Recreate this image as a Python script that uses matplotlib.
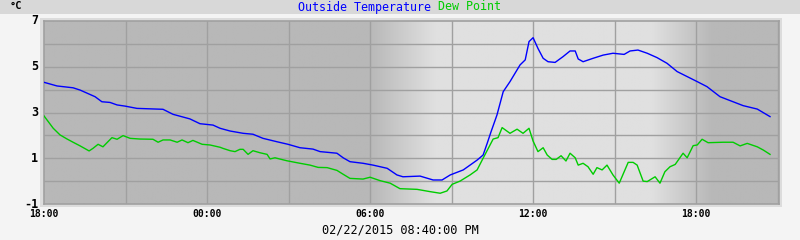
import numpy as np
import matplotlib
matplotlib.use("Agg")
import matplotlib.pyplot as plt
from matplotlib.patches import Rectangle

# hours since 18:00 on the first day
temp_hours = [0.00, 0.48, 1.07, 1.33, 1.88, 2.13, 2.43, 2.69, 2.98, 3.42, 4.38, 4.75, 5.37, 5.74,
              6.22, 6.48, 6.85, 7.33, 7.69, 8.06, 8.58, 8.98, 9.42, 9.90, 10.16, 10.78, 11.01,
              11.26, 11.74, 12.11, 12.63, 12.99, 13.21, 13.84, 14.32, 14.65, 14.95, 15.43, 15.94,
              16.16, 16.31, 16.45, 16.67, 16.90, 17.15, 17.52, 17.71, 17.85, 18.00, 18.18, 18.37,
              18.55, 18.81, 19.10, 19.36, 19.55, 19.66, 19.84, 20.21, 20.58, 20.94, 21.35, 21.57,
              21.86, 22.20, 22.56, 22.93, 23.30, 23.67, 24.04, 24.40, 24.88, 25.36, 25.73, 26.25,
              26.72]
temp_values = [4.32, 4.16, 4.08, 3.98, 3.69, 3.47, 3.44, 3.33, 3.28, 3.18, 3.14, 2.92, 2.72, 2.51,
               2.45, 2.31, 2.19, 2.09, 2.05, 1.87, 1.72, 1.61, 1.46, 1.40, 1.29, 1.22, 1.02,
               0.85, 0.78, 0.70, 0.56, 0.27, 0.19, 0.22, 0.05, 0.05, 0.27, 0.49, 0.92,
               1.14, 1.65, 2.15, 2.89, 3.91, 4.35, 5.08, 5.30, 6.10, 6.27, 5.80, 5.37,
               5.22, 5.19, 5.44, 5.69, 5.69, 5.34, 5.22, 5.37, 5.51, 5.59, 5.54, 5.69,
               5.73, 5.59, 5.40, 5.15, 4.79, 4.57, 4.35, 4.13, 3.69, 3.47, 3.30, 3.15,
               2.82]

dew_hours = [0.00, 0.34, 0.59, 0.85, 1.07, 1.33, 1.66, 1.80, 1.99, 2.17, 2.50, 2.69, 2.91, 3.17,
             3.53, 4.01, 4.20, 4.38, 4.64, 4.90, 5.08, 5.30, 5.48, 5.82, 6.11, 6.48, 6.59, 6.85,
             7.03, 7.21, 7.33, 7.51, 7.69, 7.95, 8.21, 8.32, 8.50, 8.94, 9.42, 9.79, 10.09, 10.42,
             10.78, 11.01, 11.26, 11.74, 12.00, 12.37, 12.74, 13.10, 13.73, 14.21, 14.58, 14.83,
             15.02, 15.31, 15.68, 15.94, 16.16, 16.53, 16.71, 16.86, 17.15, 17.41, 17.63, 17.85,
             18.00, 18.18, 18.37, 18.52, 18.70, 18.85, 19.03, 19.21, 19.36, 19.55, 19.66, 19.84,
             20.02, 20.21, 20.35, 20.54, 20.72, 20.94, 21.17, 21.50, 21.68, 21.83, 22.05, 22.20,
             22.49, 22.67, 22.85, 23.04, 23.23, 23.52, 23.67, 23.89, 24.04, 24.22, 24.44, 24.99,
             25.36, 25.62, 25.88, 26.25, 26.47, 26.72]
dew_values = [2.85, 2.31, 2.02, 1.84, 1.70, 1.54, 1.32, 1.43, 1.61, 1.50, 1.90, 1.83, 1.99, 1.87,
              1.84, 1.83, 1.70, 1.80, 1.80, 1.70, 1.80, 1.68, 1.78, 1.61, 1.58, 1.48, 1.43, 1.33,
              1.29, 1.39, 1.39, 1.17, 1.33, 1.24, 1.17, 0.97, 1.02, 0.89, 0.78, 0.70, 0.60, 0.59,
              0.47, 0.30, 0.12, 0.09, 0.17, 0.02, -0.09, -0.33, -0.36, -0.46, -0.53, -0.43,
              -0.14, 0.00, 0.27, 0.49, 1.00, 1.84, 1.90, 2.34, 2.09, 2.27, 2.09, 2.31,
              1.75, 1.29, 1.46, 1.14, 0.95, 0.95, 1.11, 0.88, 1.22, 1.02, 0.70, 0.78,
              0.63, 0.30, 0.59, 0.49, 0.70, 0.27, -0.09, 0.82, 0.82, 0.70, 0.00, -0.02,
              0.19, -0.09, 0.41, 0.63, 0.73, 1.22, 1.02, 1.55, 1.58, 1.83, 1.68, 1.70,
              1.70, 1.54, 1.65, 1.50, 1.36, 1.17]

y_ticks = [-1, 1, 3, 5, 7]
x_tick_hours = [0, 6, 12, 18, 24]
x_tick_labels = ["18:00", "00:00", "06:00", "12:00", "18:00"]
title_parts = ["Outside Temperature", "Dew Point"]
unit_label = "°C"
date_label = "02/22/2015 08:40:00 PM"

W, H = 800, 240
fig = plt.figure(figsize=(8, 2.4), dpi=100, facecolor="#f4f4f4")

# title strip
fig.add_artist(Rectangle((0, 1 - 14 / H), 1, 14 / H, transform=fig.transFigure,
                         facecolor="#d8d8d8", edgecolor="none", zorder=-5))
# outer frame band
fig.add_artist(Rectangle((40 / W, 1 - 207 / H), 742 / W, 189 / H, transform=fig.transFigure,
                         facecolor="#dcdcdc", edgecolor="none", zorder=-5))

ax = fig.add_axes([44 / W, 1 - 204 / H, 735 / W, 183 / H])
ax.set_zorder(2)
xmax = 27.05
ax.set_xlim(0, xmax)
ax.set_ylim(-1, 7)

# day/night background
xs = np.linspace(0, xmax, 1000)
dark, light = 184, 224
shade = np.full_like(xs, dark, dtype=float)
sr0, sr1, ss0, ss1 = 12.0, 14.4, 22.4, 24.6
m = (xs >= sr0) & (xs < sr1)
shade[m] = dark + (light - dark) * (xs[m] - sr0) / (sr1 - sr0)
m = (xs >= sr1) & (xs < ss0)
shade[m] = light
m = (xs >= ss0) & (xs < ss1)
shade[m] = light - (light - dark) * (xs[m] - ss0) / (ss1 - ss0)
img = np.repeat((shade / 255.0)[None, :, None], 3, axis=2)
ax.imshow(img, extent=(0, xmax, -1, 7), aspect="auto", zorder=0, interpolation="bilinear")

for h in np.arange(3, xmax, 3):
    ax.axvline(h, color="#a0a0a0", lw=1.0, zorder=1)
for v in range(0, 7):
    ax.axhline(v, color="#a0a0a0", lw=1.0, zorder=1)
for s in ax.spines.values():
    s.set_color("#a0a0a0")
    s.set_linewidth(1.2)

ax.plot(temp_hours, temp_values, color="#0000ff", lw=1.0, zorder=3)
ax.plot(dew_hours, dew_values, color="#00cc00", lw=1.0, zorder=3)

ax.set_xticks([])
ax.set_yticks([])

mono = "DejaVu Sans Mono"
for v in y_ticks:
    ypix = 21 + (7 - v) * 183 / 8
    fig.text(38 / W, 1 - ypix / H, str(v), ha="right", va="center", fontsize=8.5,
             fontweight="bold", family=mono)
for h, lab in zip(x_tick_hours, x_tick_labels):
    xpix = 44 + h * 735 / xmax
    fig.text(xpix / W, 1 - 214 / H, lab, ha="center", va="center", fontsize=7,
             fontweight="bold", family=mono)

fig.text(10 / W, 1 - 6 / H, unit_label, ha="left", va="center", fontsize=7.5,
         fontweight="bold", family=mono)
fig.text(298 / W, 1 - 7 / H, title_parts[0], ha="left", va="center", fontsize=8.4,
         family=mono, color="#0000ff")
fig.text(438 / W, 1 - 7 / H, title_parts[1], ha="left", va="center", fontsize=8.4,
         family=mono, color="#00cc00")
fig.text(400 / W, 1 - 230 / H, date_label, ha="center", va="center", fontsize=8.6,
         family=mono)

fig.savefig("out.png", dpi=100, facecolor=fig.get_facecolor())
